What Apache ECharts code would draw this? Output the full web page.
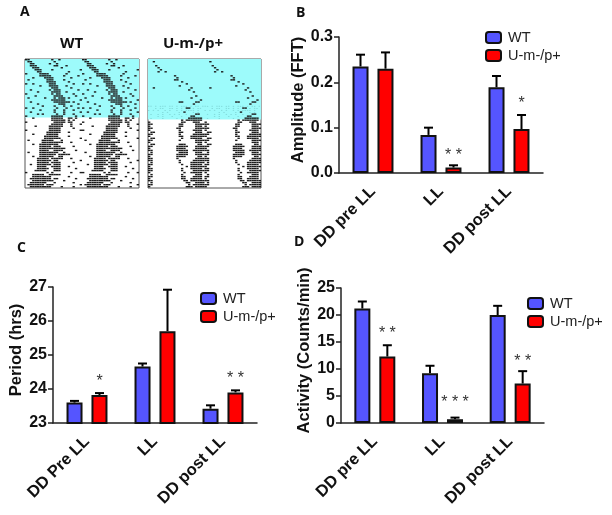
<!DOCTYPE html>
<html>
<head>
<meta charset="utf-8">
<script src="https://cdn.jsdelivr.net/npm/echarts/dist/echarts.min.js"></script>
<style>html,body{margin:0;padding:0;background:#fff}#chart{width:612px;height:515px}</style>
</head>
<body>
<div id="chart"></div>
<script>
var groups = ['WT', 'U-m-/p+'];
var catsB = ['DD pre LL', 'LL', 'DD post LL'];
var catsC = ['DD Pre LL', 'LL', 'DD post LL'];
var catsD = ['DD pre LL', 'LL', 'DD post LL'];

var ampWT = [0.235, 0.084, 0.189];
var ampWTtop = [0.261, 0.100, 0.214];
var ampMut = [0.230, 0.012, 0.097];
var ampMutTop = [0.266, 0.017, 0.128];
var ampStars = [[1, 0.046, '* *'], [2, 0.159, '*']];

var perWT = [23.60, 24.66, 23.42];
var perWTtop = [23.65, 24.75, 23.52];
var perMut = [23.82, 25.70, 23.90];
var perMutTop = [23.88, 26.92, 23.96];
var perStars = [[0, 24.32, '*'], [2, 24.39, '* *']];

var actWT = [21.2, 9.2, 20.0];
var actWTtop = [22.5, 10.6, 21.7];
var actMut = [12.3, 0.7, 7.3];
var actMutTop = [14.4, 1.0, 9.6];
var actStars = [[0, 17.2, '* *'], [1, 4.26, '* * *'], [2, 12.0, '* *']];

// actograms: one string per day, one char per hour, drawn twice (double plot)
var actoWT = [
"##.........#..#.........",
".##.........#...........",
"..##......#..#..........",
"..###.......##...#......",
"...###.........#........",
"....###....#...........#",
".....##...........#.....",
"#.....####.......#......",
"......#####.....#.....#.",
"...#....####.......#....",
".#.......###....#.......",
".........####.....#.....",
"#..#......###.......#...",
"......#...####...#......",
"...........###.....#....",
"..#.......#.###.......#.",
".....#.....####..#......",
"#..........#.##.....#...",
"....#.......####.....#..",
".#......#...#.###.#.....",
"...........######......#",
"..#.........#######.#...",
".....#........###.....#.",
".......#....#...#..#....",
"#..#.........#...#....#.",
"......#.....#...#...#...",
"..#.........#...#......#",
".....#.#.....#..#...#...",
"#..........#####.....#..",
"...#.......#####..##.#..",
"...........######.#.#...",
"#...........#####.##....",
"...........#####...#...#",
"....#.....######...#....",
"..........#####.....#...",
"#.........#####........#",
".........######...#.....",
"...#.....#####..........",
"........######....#.....",
"........#######........#",
".#.....#####...#........",
".......#########...#....",
"...#..########..........",
"......#####.###.....#...",
"......###########.......",
"......####..####.....#..",
".#....########..#.......",
"......#######.#####.....",
"...#..######..##........",
".....#####.#####...#....",
".....######.##.........#",
".....#####.####.....#...",
"..#..######.###.........",
".....####..####...#.....",
".....#####..###......#..",
"....#####...###.........",
"#........#.#.......#...#",
"...#####..#####.........",
"...########.......#.....",
"..#########.##.......#..",
"...#########....#.......",
"..#######...#.......#...",
".#######.###...........#",
"..#########....#....#..."
];
var actoMut = [
"........................",
"..#.....................",
"........................",
"...#....................",
"....#...................",
".....#..................",
"....#..#................",
"........................",
"...........#............",
"............#...........",
"...........##...........",
"..............#.........",
"................#.......",
".............#..........",
"..#...............#.....",
".................#......",
"...................#....",
"........................",
"....................#...",
"..................#.....",
"......................#.",
".............##.....##..",
"...................#....",
"::.:.:::.::.:.:::.:.::.:",
"...:.::..::.:.:.##.:.::.",
":.:.:..:.:..:.:.::::.:..",
"......:.:....:.#...:.:..",
".:..:.:..:.:.:..:...##..",
"....:.:...:...:...##....",
".:....:.....:....######.",
"..............#.#######.",
"#.............##...###..",
"##...........##.....####",
"#............##.....###.",
"##..........##......####",
"#............#.....####.",
".##..........##.....###.",
"##...........#.....#####",
"#............##...######",
".##...........#...#####.",
"##...........#......####",
"#...................###.",
".##..........###.....##.",
"##..........#####...####",
"#...........####....####",
"##..........#####..#####",
".#...........####...###.",
"##..........#####...####",
"#...........####.....##.",
"##..........#.......####",
"##...........#.....#####",
".#...........#....######",
"##............#...#####.",
"#...............#.######",
"##............#...#####.",
"##............#....#####",
"#..............#..#####.",
".#............#.....###.",
"##............##...####.",
"#.............##..#####.",
"##.............##.######",
".#..............##..####",
"##...............#.#####",
"#...............###.####"
];
var litRowsWT = 29;
var litRowsMut = 30;

var FONT = '"Liberation Sans", Arial, sans-serif';
var BLUE = '#5555ff', RED = '#ff0000', BAR_OFFSET = 12.5;

function actoCells(rows) {
	var cells = [];
	rows.forEach(function (row, r) {
		for (var c = 0; c < row.length; c++) {
			if (row[c] === '.') continue;
			var faint = row[c] === ':' ? 1 : 0;
			cells.push([c, r, faint]);
			cells.push([c + 24, r, faint]);
		}
	});
	return cells;
}

function renderCell(params, api) {
	var a = api.coord([api.value(0), api.value(1)]);
	var b = api.coord([api.value(0) + 1, api.value(1) + 1]);
	var faint = api.value(2);
	return {
		type: 'rect',
		shape: { x: a[0], y: a[1] + (faint ? 0.5 : 0), width: (b[0] - a[0]) - (faint ? 1 : 0), height: faint ? 1 : (b[1] - a[1]) - 0.6 },
		style: { fill: faint ? 'rgba(40,110,110,0.22)' : '#1c1c1c' }
	};
}

function renderErr(offset) {
	return function (params, api) {
		var x = api.coord([api.value(0), 0])[0] + offset;
		var y0 = api.coord([0, api.value(1)])[1];
		var y1 = api.coord([0, api.value(2)])[1];
		var st = { stroke: '#000', lineWidth: 2, fill: null };
		return {
			type: 'group',
			children: [
				{ type: 'line', shape: { x1: x, y1: y0, x2: x, y2: y1 }, style: st },
				{ type: 'line', shape: { x1: x - 4.5, y1: y1, x2: x + 4.5, y2: y1 }, style: st }
			]
		};
	};
}

function renderStar(params, api) {
	var p = api.coord([api.value(0), api.value(1)]);
	return {
		type: 'text',
		style: {
			x: p[0] + BAR_OFFSET, y: p[1] + 3, text: api.value(2),
			fill: '#333', font: '16px ' + FONT, align: 'center', verticalAlign: 'middle'
		}
	};
}

var option = {
	animation: false,
	title: [
		['A', 20, 5], ['B', 296, 6], ['C', 17, 241], ['D', 294, 235]
	].map(function (t) {
		return { text: t[0], left: t[1], top: t[2], padding: 0,
			textStyle: { fontFamily: '"Open Sans"', fontWeight: 'bold', fontSize: 14, color: '#111' } };
	}).concat([
		['WT', 60, 36], ['U-m-/p+', 163, 36]
	].map(function (t) {
		return { text: t[0], left: t[1], top: t[2], padding: 0,
			textStyle: { fontFamily: '"Open Sans"', fontWeight: 'bold', fontSize: 15, color: '#111' } };
	})),
	legend: [[485, 30], [200, 291], [527, 296]].map(function (p) {
		return {
			data: groups, orient: 'vertical', left: p[0], top: p[1], padding: 0,
			itemWidth: 15, itemHeight: 11, itemGap: 3, selectedMode: false,
			textStyle: { fontFamily: FONT, fontSize: 14.5, color: '#222', padding: [0, 0, 0, 2] }
		};
	}),
	grid: [
		{ left: 25, top: 59, width: 114, height: 129, show: true, borderColor: '#555', borderWidth: 1 },
		{ left: 148, top: 59, width: 113, height: 129, show: true, borderColor: '#555', borderWidth: 1 },
		{ left: 339, top: 37, width: 204, height: 136 },
		{ left: 53, top: 287, width: 204, height: 136 },
		{ left: 341, top: 288, width: 203, height: 135 }
	],
	xAxis: [
		{ gridIndex: 0, type: 'value', min: 0, max: 48, show: false },
		{ gridIndex: 1, type: 'value', min: 0, max: 48, show: false }
	].concat([[2, catsB], [3, catsC], [4, catsD]].map(function (a) {
		return {
			gridIndex: a[0], type: 'category', data: a[1],
			axisLine: { lineStyle: { color: '#222', width: 1.5 } },
			axisTick: { alignWithLabel: true, length: 3, lineStyle: { color: '#222', width: 1.5 } },
			axisLabel: { rotate: 45, interval: 0, margin: 16, color: '#111', fontFamily: FONT, fontWeight: 'bold', fontSize: 16.5 }
		};
	})),
	yAxis: [
		{ gridIndex: 0, type: 'value', min: 0, max: 64, inverse: true, show: false },
		{ gridIndex: 1, type: 'value', min: 0, max: 64, inverse: true, show: false }
	].concat([
		[2, 0, 0.3, 0.1, 'Amplitude (FFT)', 31, function (v) { return v.toFixed(1); }],
		[3, 23, 27, 1, 'Period (hrs)', 27, null],
		[4, 0, 25, 5, 'Activity (Counts/min)', 26, null]
	].map(function (a) {
		return {
			gridIndex: a[0], type: 'value', min: a[1], max: a[2], interval: a[3],
			name: a[4], nameLocation: 'middle', nameGap: a[5], nameRotate: 90,
			nameTextStyle: { color: '#111', fontFamily: FONT, fontWeight: 'bold', fontSize: 16.5, padding: [0, 0, 0, 10] },
			splitLine: { show: false },
			axisLine: { show: true, lineStyle: { color: '#222', width: 1.5 } },
			axisTick: { show: true, length: 5, lineStyle: { color: '#222', width: 1.5 } },
			axisLabel: { margin: 6, color: '#111', fontFamily: FONT, fontWeight: 'bold', fontSize: 16, formatter: a[6] || undefined }
		};
	})),
	series: []
};

function actoSeries(idx, rows, litRows) {
	return {
		type: 'custom', xAxisIndex: idx, yAxisIndex: idx, silent: true,
		renderItem: renderCell, data: actoCells(rows), clip: true,
		markArea: {
			silent: true, itemStyle: { color: '#9dfbfb', opacity: 1 }, label: { show: false },
			data: [[{ xAxis: 0, yAxis: 0 }, { xAxis: 48, yAxis: litRows }]]
		}
	};
}

function panelSeries(idx, wt, wtTop, mut, mutTop, stars) {
	function bar(name, vals, color) {
		return {
			name: name, type: 'bar', xAxisIndex: idx, yAxisIndex: idx, data: vals,
			barWidth: 16, barGap: '56%', z: 3,
			itemStyle: { color: color, borderColor: '#111', borderWidth: 2 }
		};
	}
	function err(vals, tops, off) {
		return {
			type: 'custom', xAxisIndex: idx, yAxisIndex: idx, z: 2, silent: true,
			renderItem: renderErr(off),
			data: vals.map(function (v, i) { return [i, v, tops[i]]; })
		};
	}
	return [
		bar(groups[0], wt, BLUE),
		bar(groups[1], mut, RED),
		err(wt, wtTop, -BAR_OFFSET),
		err(mut, mutTop, BAR_OFFSET),
		{
			type: 'custom', xAxisIndex: idx, yAxisIndex: idx, silent: true,
			renderItem: renderStar, data: stars,
			encode: { x: 0, y: 1 }, dimensions: ['c', 'y', { name: 't', type: 'ordinal' }]
		}
	];
}

option.series = [
	actoSeries(0, actoWT, litRowsWT),
	actoSeries(1, actoMut, litRowsMut)
].concat(
	panelSeries(2, ampWT, ampWTtop, ampMut, ampMutTop, ampStars),
	panelSeries(3, perWT, perWTtop, perMut, perMutTop, perStars),
	panelSeries(4, actWT, actWTtop, actMut, actMutTop, actStars)
);

var chart = echarts.init(document.getElementById('chart'), null, { renderer: 'canvas' });
chart.setOption(option);
</script>
</body>
</html>
